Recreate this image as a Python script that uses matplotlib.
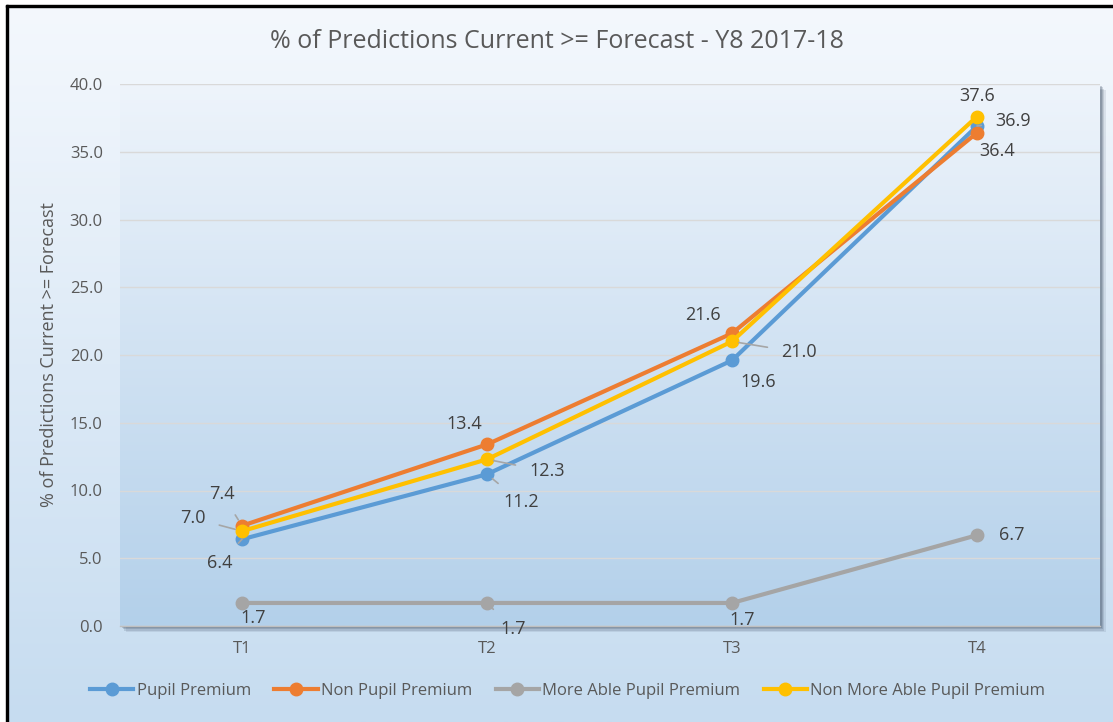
import numpy as np
import matplotlib
matplotlib.use("Agg")
import matplotlib.pyplot as plt
from matplotlib.patches import Rectangle
from matplotlib.lines import Line2D

plt.rcParams['font.family'] = ['Open Sans', 'DejaVu Sans']

categories = ["T1", "T2", "T3", "T4"]
series_names = ["Pupil Premium", "Non Pupil Premium", "More Able Pupil Premium", "Non More Able Pupil Premium"]
pupil_premium = [6.4, 11.2, 19.6, 36.9]
non_pupil_premium = [7.4, 13.4, 21.6, 36.4]
more_able_pp = [1.7, 1.7, 1.7, 6.7]
non_more_able_pp = [7.0, 12.3, 21.0, 37.6]
y_ticks = [0, 5, 10, 15, 20, 25, 30, 35, 40]
title = "% of Predictions Current >= Forecast - Y8 2017-18"
y_label = "% of Predictions Current >= Forecast"

colors = ["#5b9bd5", "#ed7d31", "#a5a5a5", "#ffc000"]
values = [pupil_premium, non_pupil_premium, more_able_pp, non_more_able_pp]

# label offsets in pixels (dx, dy) and whether a leader line is drawn
label_offsets = [
    [(-22, -24, True), (34, -28, True), (26, -22, False), (36, 5, True)],
    [(-20, 32, True), (-23, 20, False), (-29, 18, False), (20, -18, False)],
    [(11, -15, False), (26, -26, True), (10, -17, False), (35, 0, False)],
    [(-49, 13, True), (60, -12, True), (67, -11, True), (0, 21, False)],
]

W, H = 1113, 722
fig = plt.figure(figsize=(W / 100, H / 100), dpi=100)
fig.patch.set_facecolor("white")

# chart area background gradient
bg = fig.add_axes([8 / W, 0, 1 - 8 / W, 1 - 7 / H])
bg.set_axis_off()
grad = np.linspace(0, 1, 256).reshape(-1, 1)
c_top = np.array([0xf4, 0xf8, 0xfd]) / 255
c_bot = np.array([0xc6, 0xdc, 0xf0]) / 255
img = c_top[None, None, :] * (1 - grad[:, :, None]) + c_bot[None, None, :] * grad[:, :, None]
bg.imshow(img, aspect="auto", extent=[0, 1, 0, 1], origin="upper")
bg.set_xlim(0, 1)
bg.set_ylim(0, 1)

# black frame lines (left and top)
fig.add_artist(Rectangle((6 / W, 0), 2 / W, 1 - 5 / H, transform=fig.transFigure, color="black", zorder=5))
fig.add_artist(Rectangle((6 / W, 1 - 7 / H), 1 - 6 / W, 2 / H, transform=fig.transFigure, color="black", zorder=5))

ax_l, ax_r, ax_t, ax_b = 119.5, 1099.5, 84, 626
pos = [ax_l / W, 1 - ax_b / H, (ax_r - ax_l) / W, (ax_b - ax_t) / H]

# shadow of plot area
for i, a in enumerate([0.10, 0.14, 0.18, 0.22]):
    off = 6 - i * 1.3
    fig.add_artist(Rectangle(((ax_l + off) / W, 1 - (ax_b + off) / H), (ax_r - ax_l) / W, (ax_b - ax_t) / H,
                             transform=fig.transFigure, facecolor="#2f3f55", edgecolor="none", alpha=a, zorder=1))

ax = fig.add_axes(pos, zorder=2)
p_top = np.array([0xee, 0xf4, 0xfb]) / 255
p_bot = np.array([0xb3, 0xd0, 0xea]) / 255
pimg = p_top[None, None, :] * (1 - grad[:, :, None]) + p_bot[None, None, :] * grad[:, :, None]
ax.imshow(pimg, aspect="auto", extent=[-0.5, 3.5, 0, 40], origin="upper", zorder=0)

x = np.arange(len(categories))
ax.set_xlim(-0.5, 3.5)
ax.set_ylim(0, 40)
ax.set_yticks(y_ticks)
ax.set_yticklabels([f"{t:.1f}" for t in y_ticks])
ax.set_xticks(x)
ax.set_xticklabels(categories)
ax.grid(axis="y", color="#d9d9d9", lw=1, zorder=1)
ax.tick_params(length=0, labelsize=12, labelcolor="#595959")
ax.tick_params(axis="x", pad=11)
ax.tick_params(axis="y", pad=12)
for s in ["left", "right", "top"]:
    ax.spines[s].set_visible(False)
ax.spines["bottom"].set_color("#bfbfbf")
ax.spines["bottom"].set_linewidth(1)

for name, vals, col in zip(series_names, values, colors):
    ax.plot(x, vals, color=col, lw=3, marker="o", ms=9, label=name, zorder=3, solid_capstyle="round")

for vals, offs in zip(values, label_offsets):
    for xi, v, (dx, dy, lead) in zip(x, vals, offs):
        ap = None
        if lead:
            ap = dict(arrowstyle="-", color="#a6a6a6", lw=1.2, shrinkA=8, shrinkB=5)
        ax.annotate(f"{v:.1f}", (xi, v), xytext=(dx, dy), textcoords="offset pixels",
                    ha="center", va="center", fontsize=13, color="#404040", arrowprops=ap,
                    annotation_clip=False, zorder=4)

ax.set_ylabel(y_label, fontsize=13, color="#595959", labelpad=8)

fig.text(0.5, 1 - 42 / H, title, ha="center", va="center", fontsize=18, color="#595959")

handles = [Line2D([], [], color=c, lw=3, marker="o", ms=9) for c in colors]
fig.legend(handles, series_names, loc="center", bbox_to_anchor=(0.51, 1 - 691 / H), ncol=4,
           frameon=False, fontsize=12, labelcolor="#595959", handlelength=2.6, handletextpad=0.2,
           columnspacing=1.4)

fig.savefig("out.png", dpi=100)
